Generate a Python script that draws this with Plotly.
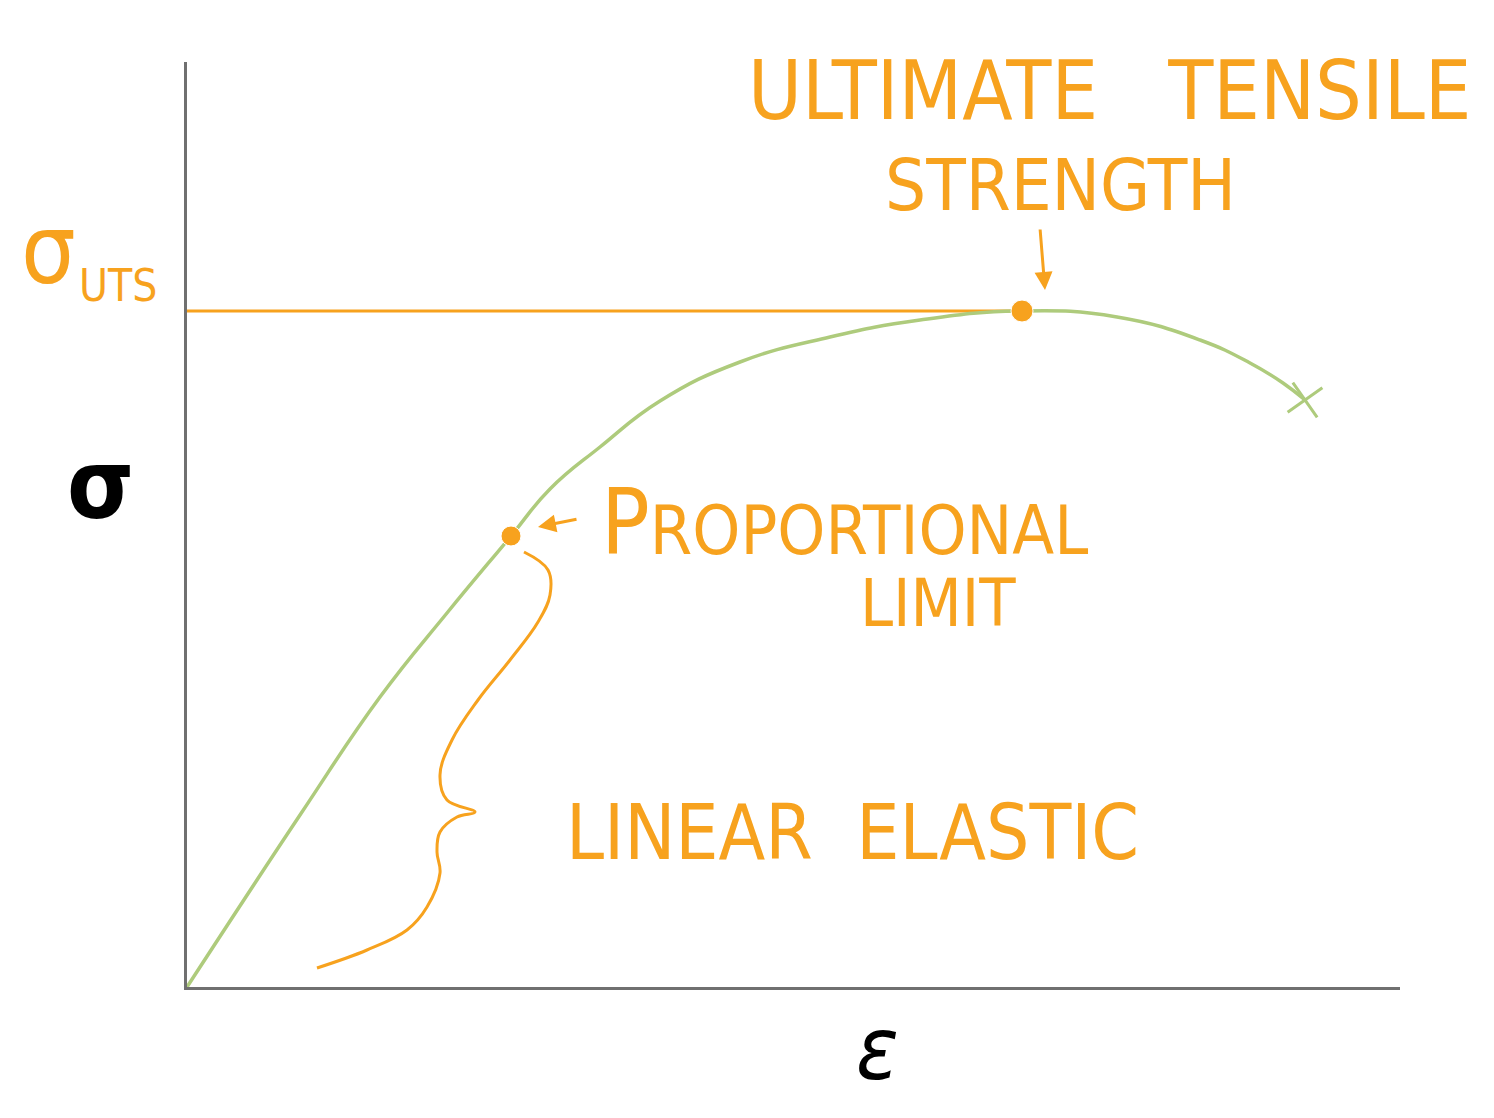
import plotly.graph_objects as go

# Stress-strain curve (arbitrary units)
strain = [0, 1.13, 1.93, 2.60, 3.24, 3.63, 4.13, 4.73, 5.53, 6.43, 7.33, 8.35, 9.30, 10.13, 10.63, 10.96, 11.18]
stress = [0, 1.72, 2.90, 3.74, 4.51, 4.98, 5.40, 5.86, 6.25, 6.50, 6.67, 6.76, 6.70, 6.47, 6.24, 6.04, 5.87]

prop_limit = (3.24, 4.51)
uts = (8.35, 6.76)
fracture = (11.18, 5.87)

# curly brace marking the linear elastic region
brace_x = [3.37, 3.61, 3.63, 3.51, 3.23, 2.91, 2.65, 2.53, 2.60, 2.88, 2.70, 2.53, 2.50, 2.53, 2.40, 2.20, 1.80, 1.30]
brace_y = [4.35, 4.17, 3.92, 3.65, 3.27, 2.87, 2.47, 2.12, 1.87, 1.75, 1.70, 1.55, 1.35, 1.14, 0.80, 0.57, 0.37, 0.19]

ORANGE = "#F7A21E"
GREEN = "#AECB7C"
FONT = "DejaVu Sans Condensed, Liberation Sans Narrow, DejaVu Sans, sans-serif"

fig = go.Figure()

fig.add_trace(go.Scatter(x=[0, uts[0]], y=[uts[1], uts[1]], mode="lines",
                         line=dict(color=ORANGE, width=3), hoverinfo="skip"))
fig.add_trace(go.Scatter(x=strain, y=stress, mode="lines",
                         line=dict(color=GREEN, width=3.5, shape="spline", smoothing=1.3,
                                   simplify=False),
                         hoverinfo="skip"))
fig.add_trace(go.Scatter(x=brace_x, y=brace_y, mode="lines",
                         line=dict(color=ORANGE, width=3, shape="spline", smoothing=1.1,
                                   simplify=False),
                         hoverinfo="skip"))
fig.add_trace(go.Scatter(x=[prop_limit[0], uts[0]], y=[prop_limit[1], uts[1]], mode="markers",
                         marker=dict(color=ORANGE, size=[20, 22], opacity=1), hoverinfo="skip"))
fig.add_trace(go.Scatter(x=[fracture[0]], y=[fracture[1]], mode="markers",
                         marker=dict(symbol="x-thin", size=30, angle=10, opacity=1,
                                     line=dict(color=GREEN, width=3)),
                         hoverinfo="skip"))

ann = []
def txt(x, y, s, size, color=ORANGE, ref="x", weight="normal"):
    ann.append(dict(x=x, y=y, xref=ref, yref=ref.replace("x", "y"), text=s, showarrow=False,
                    font=dict(family=FONT, size=size, color=color, weight=weight),
                    xanchor="center", yanchor="middle"))

txt(9.22, 8.97, "ULTIMATE&nbsp;&nbsp;&nbsp;TENSILE", 82)
txt(8.73, 8.02, "STRENGTH", 72)
txt(6.57, 4.65, "P<span style='font-size:68px'>ROPORTIONAL</span>", 90)
txt(7.51, 3.84, "LIMIT", 66)
txt(6.65, 1.55, "LINEAR&nbsp;&nbsp;ELASTIC", 76)

# labels outside the plot area (paper coordinates)
W, H = 1213.0, 925.0
txt((48 - 187) / W, (987 - 250) / H, "σ", 96, ref="paper")
txt((118 - 187) / W, (987 - 285) / H, "UTS", 44, ref="paper")
txt((100 - 187) / W, (987 - 485) / H, "σ", 96, color="black", ref="paper", weight="bold")
txt((877 - 187) / W, (987 - 1048) / H, "<i>ε</i>", 88, color="black", ref="paper")

# arrows
ann.append(dict(x=8.58, y=6.97, xref="x", yref="y", ax=-5, ay=-62, showarrow=True,
                arrowhead=2, arrowsize=1.2, arrowwidth=3, arrowcolor=ORANGE, text=""))
ann.append(dict(x=3.51, y=4.60, xref="x", yref="y", ax=40, ay=-8, showarrow=True,
                arrowhead=2, arrowsize=1.2, arrowwidth=3, arrowcolor=ORANGE, text=""))

fig.update_layout(
    width=1478, height=1102,
    margin=dict(l=179, r=86, t=54, b=123),
    paper_bgcolor="white", plot_bgcolor="white",
    showlegend=False,
    annotations=ann,
    xaxis=dict(range=[0, 12.13], showgrid=False, zeroline=False, showticklabels=False,
               ticks="", showline=True, linecolor="#707070", linewidth=3),
    yaxis=dict(range=[0, 9.25], showgrid=False, zeroline=False, showticklabels=False,
               ticks="", showline=True, linecolor="#707070", linewidth=3),
)

fig.write_html("out.html")
